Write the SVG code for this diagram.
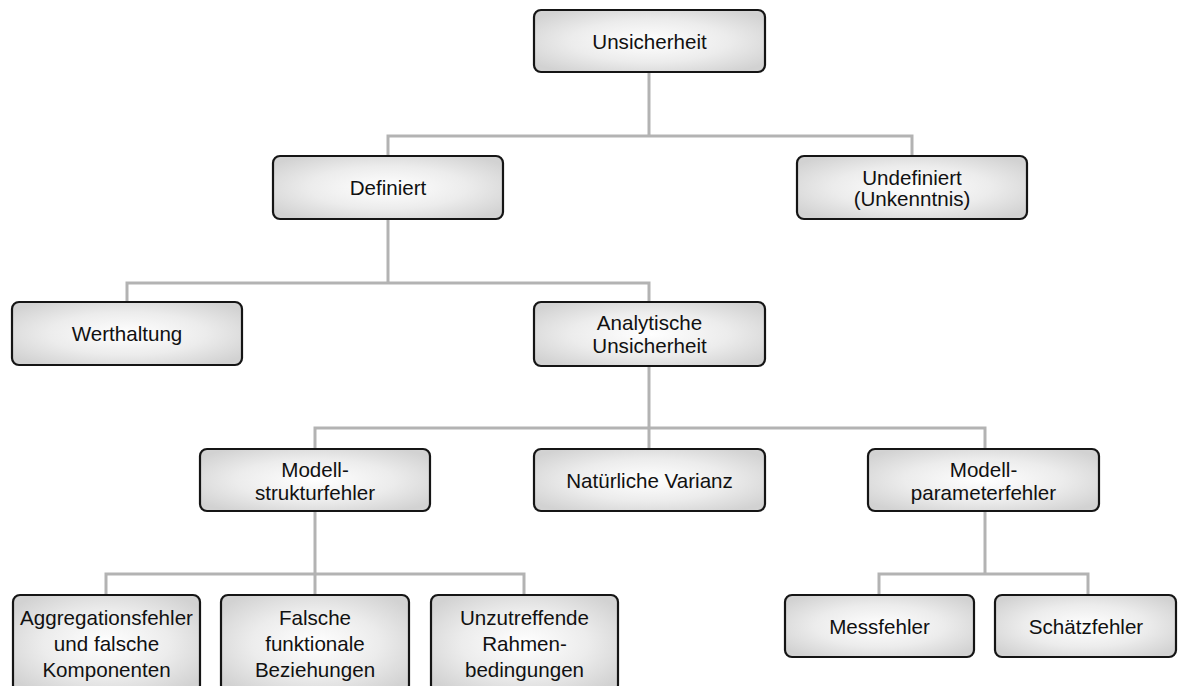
<svg xmlns="http://www.w3.org/2000/svg" width="1179" height="686" viewBox="0 0 1179 686">
  <defs>
    <radialGradient id="boxFill" cx="0.5" cy="0.5" r="0.62">
      <stop offset="0" stop-color="#ffffff"/>
      <stop offset="0.55" stop-color="#ececec"/>
      <stop offset="1" stop-color="#d2d2d2"/>
    </radialGradient>
    <style>
      .box { fill: url(#boxFill); stroke: #151515; stroke-width: 2.2; }
      .lbl { font-family: "Liberation Sans", Arial, sans-serif; font-size: 20.6px; fill: #111; text-anchor: middle; }
      .conn { fill: none; stroke: #b3b3b3; stroke-width: 3; }
    </style>
  </defs>
  <rect width="1179" height="686" fill="#ffffff"/>

  <g id="connectors">
    <!-- Unsicherheit -> Definiert / Undefiniert -->
    <path class="conn" d="M649,72 V136 M388,156 V136 H912 V156"/>
    <!-- Definiert -> Werthaltung / Analytische Unsicherheit -->
    <path class="conn" d="M388,219 V283 M127,302 V283 H649 V302"/>
    <!-- Analytische Unsicherheit -> row of three -->
    <path class="conn" d="M649,366 V428 M315,449 V428 H985 V449 M649,428 V449"/>
    <!-- Modellstrukturfehler -> three children -->
    <path class="conn" d="M315,511 V574 M106,595 V574 H524 V595 M315,574 V595"/>
    <!-- Modellparameterfehler -> two children -->
    <path class="conn" d="M985,511 V574 M879,595 V574 H1088 V595"/>
  </g>

  <g id="unsicherheit">
    <rect class="box" x="534" y="10" width="231" height="62" rx="7"/>
    <text class="lbl" x="649.5" y="49">Unsicherheit</text>
  </g>

  <g id="definiert">
    <rect class="box" x="273" y="156" width="230" height="63" rx="7"/>
    <text class="lbl" x="388" y="195">Definiert</text>
  </g>

  <g id="undefiniert">
    <rect class="box" x="797" y="156" width="230" height="63" rx="7"/>
    <text class="lbl" x="912" y="185">Undefiniert</text>
    <text class="lbl" x="912" y="206">(Unkenntnis)</text>
  </g>

  <g id="werthaltung">
    <rect class="box" x="12" y="302" width="230" height="63" rx="7"/>
    <text class="lbl" x="127" y="341">Werthaltung</text>
  </g>

  <g id="analytische-unsicherheit">
    <rect class="box" x="534" y="302" width="231" height="64" rx="7"/>
    <text class="lbl" x="649.5" y="330">Analytische</text>
    <text class="lbl" x="649.5" y="353">Unsicherheit</text>
  </g>

  <g id="modellstrukturfehler">
    <rect class="box" x="200" y="449" width="230" height="62" rx="7"/>
    <text class="lbl" x="315" y="477">Modell-</text>
    <text class="lbl" x="315" y="500">strukturfehler</text>
  </g>

  <g id="natuerliche-varianz">
    <rect class="box" x="534" y="449" width="231" height="62" rx="7"/>
    <text class="lbl" x="649.5" y="488">Natürliche Varianz</text>
  </g>

  <g id="modellparameterfehler">
    <rect class="box" x="868" y="449" width="231" height="62" rx="7"/>
    <text class="lbl" x="983.5" y="477">Modell-</text>
    <text class="lbl" x="983.5" y="500">parameterfehler</text>
  </g>

  <g id="aggregationsfehler">
    <rect class="box" x="13" y="595" width="187" height="97" rx="7"/>
    <text class="lbl" x="106.5" y="625">Aggregationsfehler</text>
    <text class="lbl" x="106.5" y="651">und falsche</text>
    <text class="lbl" x="106.5" y="677">Komponenten</text>
  </g>

  <g id="falsche-funktionale-beziehungen">
    <rect class="box" x="221" y="595" width="188" height="97" rx="7"/>
    <text class="lbl" x="315" y="625">Falsche</text>
    <text class="lbl" x="315" y="651">funktionale</text>
    <text class="lbl" x="315" y="677">Beziehungen</text>
  </g>

  <g id="unzutreffende-rahmenbedingungen">
    <rect class="box" x="431" y="595" width="187" height="97" rx="7"/>
    <text class="lbl" x="524.5" y="625">Unzutreffende</text>
    <text class="lbl" x="524.5" y="651">Rahmen-</text>
    <text class="lbl" x="524.5" y="677">bedingungen</text>
  </g>

  <g id="messfehler">
    <rect class="box" x="785" y="595" width="189" height="62" rx="7"/>
    <text class="lbl" x="879.5" y="634">Messfehler</text>
  </g>

  <g id="schaetzfehler">
    <rect class="box" x="995" y="595" width="181" height="62" rx="7"/>
    <text class="lbl" x="1086" y="634">Schätzfehler</text>
  </g>
</svg>
